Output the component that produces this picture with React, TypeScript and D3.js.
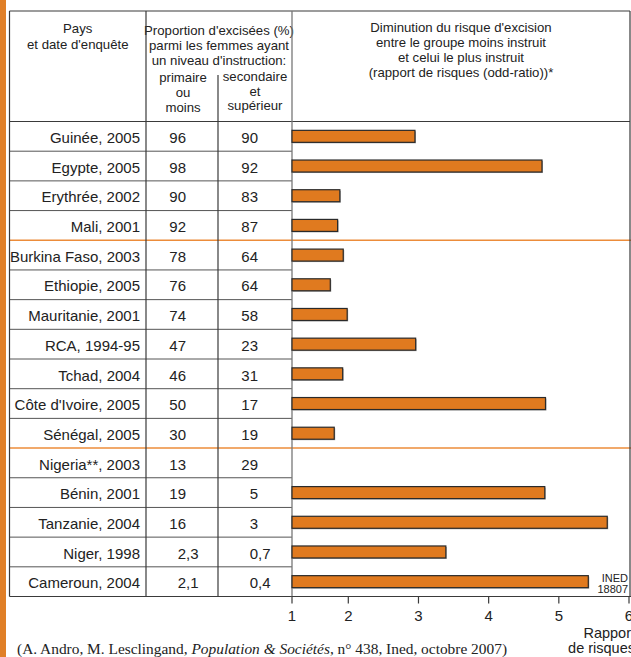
import React from "react";
import * as d3 from "d3";

const countries = [
  "Guinée, 2005", "Egypte, 2005", "Erythrée, 2002", "Mali, 2001",
  "Burkina Faso, 2003", "Ethiopie, 2005", "Mauritanie, 2001", "RCA, 1994-95",
  "Tchad, 2004", "Côte d'Ivoire, 2005", "Sénégal, 2005", "Nigeria**, 2003",
  "Bénin, 2001", "Tanzanie, 2004", "Niger, 1998", "Cameroun, 2004",
];
const primaire = [96, 98, 90, 92, 78, 76, 74, 47, 46, 50, 30, 13, 19, 16, 2.3, 2.1];
const secondaire = [90, 92, 83, 87, 64, 64, 58, 23, 31, 17, 19, 29, 5, 3, 0.7, 0.4];
const oddRatio: (number | null)[] = [
  2.95, 4.76, 1.85, 1.81, 1.91, 1.68, 1.98, 2.96, 1.9, 4.81, 1.75, null, 4.8, 5.69, 3.39, 5.42,
];
const groupBreaks = [4, 11]; // orange separator before these row indices
const axisTicks = [1, 2, 3, 4, 5, 6];

const headPays = ["Pays", "et date d'enquête"];
const headProp = ["Proportion d'excisées (%)", "parmi les femmes ayant", "un niveau d'instruction:"];
const headPrim = ["primaire", "ou", "moins"];
const headSec = ["secondaire", "et", "supérieur"];
const headRisk = [
  "Diminution du risque d'excision",
  "entre le groupe moins instruit",
  "et celui le plus instruit",
  "(rapport de risques (odd-ratio))*",
];

const W = 631;
const H = 657;
const SANS = "'Liberation Sans', Arial, sans-serif";
const NARROW = "'Liberation Sans Narrow', 'Liberation Sans', Arial, sans-serif";
const SERIF = "'Liberation Serif', 'Times New Roman', serif";
const ORANGE = "#E07A1F";
const ORANGE_LINE = "#EC8C3A";
const LINE = "#3a3a3a";

const L = 9.5, C1 = 146, C2 = 218, C3 = 292, R = 630;
const TOP = 11, HB = 121.5, BOT = 596.5;

function splitNum(v: number) {
  const s = String(v).replace(".", ",");
  const i = s.indexOf(",");
  return i < 0 ? [s, ""] : [s.slice(0, i), s.slice(i)];
}

export default function App() {
  const y = d3.scaleBand<string>().domain(countries).range([HB, BOT]).padding(0);
  const bw = y.bandwidth();
  const x = d3.scaleLinear().domain([1, 2, 6]).range([C3, 348.3, 629]);
  const barH = 12;

  return (
    <svg width={W} height={H} style={{ position: "absolute", left: 0, top: 0, background: "#fff" }}>
      <rect x={0} y={0} width={6} height={H} fill="#E07F27" />

      {/* header texts */}
      <g fontFamily={SANS} fontSize={13.2} fill="#222" textAnchor="middle">
        {headPays.map((t, i) => (
          <text key={t} x={(L + C1) / 2} y={33 + i * 15.5}>{t}</text>
        ))}
        {headProp.map((t, i) => (
          <text key={t} x={(C1 + C3) / 2} y={35 + i * 15}>{t}</text>
        ))}
        {headPrim.map((t, i) => (
          <text key={t} x={(C1 + C2) / 2 + 1} y={82 + i * 14.8}>{t}</text>
        ))}
        {headSec.map((t, i) => (
          <text key={t} x={(C2 + C3) / 2} y={81 + i * 14.5}>{t}</text>
        ))}
        {headRisk.map((t, i) => (
          <text key={t} x={(C3 + R) / 2} y={31.5 + i * 15.2}>{t}</text>
        ))}
      </g>

      {/* row separators */}
      {countries.slice(1).map((c, i) =>
        groupBreaks.includes(i + 1) ? null : (
          <line key={c} x1={L} x2={C3} y1={y(c)!} y2={y(c)!} stroke="#555" strokeWidth={1} />
        )
      )}
      {groupBreaks.map((gi) => (
        <line key={gi} x1={L} x2={W} y1={y(countries[gi])!} y2={y(countries[gi])!} stroke={ORANGE_LINE} strokeWidth={1.4} />
      ))}

      {/* frame */}
      <g stroke={LINE} strokeWidth={1.2} fill="none">
        <line x1={L} x2={R} y1={TOP} y2={TOP} />
        <line x1={L} x2={R} y1={HB} y2={HB} />
        <line x1={L} x2={L} y1={TOP} y2={BOT} />
        <line x1={R} x2={R} y1={TOP} y2={BOT} />
        <line x1={C1} x2={C1} y1={TOP} y2={BOT} />
        <line x1={C2} x2={C2} y1={75} y2={BOT} />
        <line x1={L} x2={C3} y1={BOT} y2={BOT} />
      </g>
      <line x1={C3} x2={C3} y1={TOP} y2={BOT} stroke="#777" strokeWidth={1.3} />

      {/* row texts */}
      <g fontFamily={SANS} fontSize={15} fill="#222">
        {countries.map((c, i) => {
          const ty = y(c)! + 21.5;
          const [p1, p2] = splitNum(primaire[i]);
          const [s1, s2] = splitNum(secondaire[i]);
          return (
            <g key={c}>
              <text x={140} y={ty} textAnchor="end">{c}</text>
              <text x={186} y={ty} textAnchor="end">{p1}</text>
              {p2 && <text x={186} y={ty}>{p2}</text>}
              <text x={258} y={ty} textAnchor="end">{s1}</text>
              {s2 && <text x={258} y={ty}>{s2}</text>}
            </g>
          );
        })}
      </g>

      {/* bars */}
      {countries.map((c, i) => {
        const v = oddRatio[i];
        if (v == null) return null;
        const by = y(c)! + (bw - barH) / 2;
        return (
          <g key={c}>
            <rect x={x(1) + 1} y={by + 1} width={x(v) - x(1)} height={barH} fill="#a8a8a8" />
            <rect x={x(1)} y={by} width={x(v) - x(1)} height={barH} fill={ORANGE} stroke="#2a2a2a" strokeWidth={1.2} />
          </g>
        );
      })}

      {/* axis */}
      <line x1={C3} x2={W} y1={BOT} y2={BOT} stroke={LINE} strokeWidth={1.2} />
      <g fontFamily={SANS} fontSize={15} fill="#222" textAnchor="middle">
        {axisTicks.map((t) => (
          <g key={t}>
            <line x1={x(t)} x2={x(t)} y1={BOT} y2={BOT + 7} stroke={LINE} strokeWidth={1.2} />
            <text x={x(t)} y={621}>{t}</text>
          </g>
        ))}
      </g>
      <g fontFamily={SANS} fontSize={14.5} fill="#222" textAnchor="end">
        <text x={635} y={638}>Rapport</text>
        <text x={635} y={653}>de risques</text>
      </g>

      <g fontFamily={NARROW} fontSize={11} fill="#222" textAnchor="end">
        <text x={628} y={582}>INED</text>
        <text x={628} y={593}>18807</text>
      </g>

      <text x={17} y={654} fontFamily={SERIF} fontSize={15.4} fill="#222">
        (A. Andro, M. Lesclingand, <tspan fontStyle="italic">Population &amp; Sociétés</tspan>, n° 438, Ined, octobre 2007)
      </text>
    </svg>
  );
}
